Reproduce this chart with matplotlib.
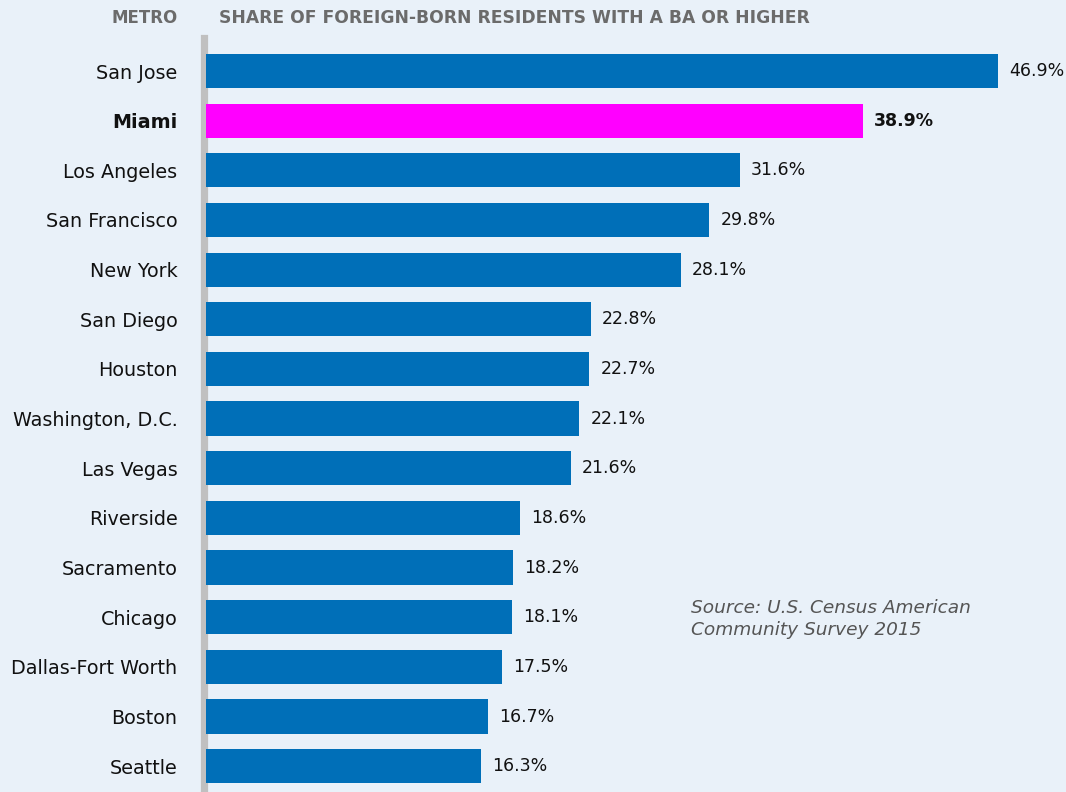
import matplotlib.pyplot as plt
import numpy as np

metros = ["San Jose", "Miami", "Los Angeles", "San Francisco", "New York",
          "San Diego", "Houston", "Washington, D.C.", "Las Vegas", "Riverside",
          "Sacramento", "Chicago", "Dallas-Fort Worth", "Boston", "Seattle"]
shares = [46.9, 38.9, 31.6, 29.8, 28.1, 22.8, 22.7, 22.1, 21.6, 18.6,
          18.2, 18.1, 17.5, 16.7, 16.3]
highlight = "Miami"

bg = "#e9f1f9"
blue = "#006fb8"
pink = "#ff00ff"
grey_txt = "#6b6b6b"

plt.rcParams['font.family'] = ['DejaVu Sans']

fig = plt.figure(figsize=(10.66, 7.92), dpi=100, facecolor=bg)
ax = fig.add_axes([206 / 1066, 0, 1 - 206 / 1066, 1 - 38 / 792])
ax.set_facecolor(bg)

y = np.arange(len(metros))
colors = [pink if m == highlight else blue for m in metros]
bars = ax.barh(y, shares, height=0.69, color=colors, zorder=3)

ax.set_xlim(0, 860 / 16.89)
ax.set_ylim(14.52, -0.665)

for s in ["top", "right", "bottom"]:
    ax.spines[s].set_visible(False)
ax.spines["left"].set_color("#c0c0c0")
ax.spines["left"].set_linewidth(5.2)
ax.spines["left"].set_position(("outward", 1.5))
ax.set_xticks([])
ax.set_yticks(y)
ax.set_yticklabels(metros, fontsize=13.8, color="#111111")
ax.tick_params(axis="y", length=0, pad=19)
for lbl in ax.get_yticklabels():
    if lbl.get_text() == highlight:
        lbl.set_fontweight("bold")

for b, v, m in zip(bars, shares, metros):
    ax.annotate(f"{v}%", xy=(b.get_width(), b.get_y() + b.get_height() / 2),
                xytext=(8, 0), textcoords="offset points", ha="left", va="center",
                fontsize=12.5, color="#111111",
                fontweight="bold" if m == highlight else "normal")

fig.text(178 / 1066, 1 - 18 / 792, "METRO", ha="right", va="center",
         fontsize=12, fontweight="bold", color=grey_txt)
fig.text(219 / 1066, 1 - 18 / 792, "SHARE OF FOREIGN-BORN RESIDENTS WITH A BA OR HIGHER",
         ha="left", va="center", fontsize=12.3, fontweight="bold", color=grey_txt)

fig.text(691 / 1066, 1 - 619 / 792, "Source: U.S. Census American\nCommunity Survey 2015",
         ha="left", va="center", fontsize=13.3, style="italic", color="#555555",
         linespacing=1.35)

fig.savefig("out.png", dpi=100, facecolor=bg)
